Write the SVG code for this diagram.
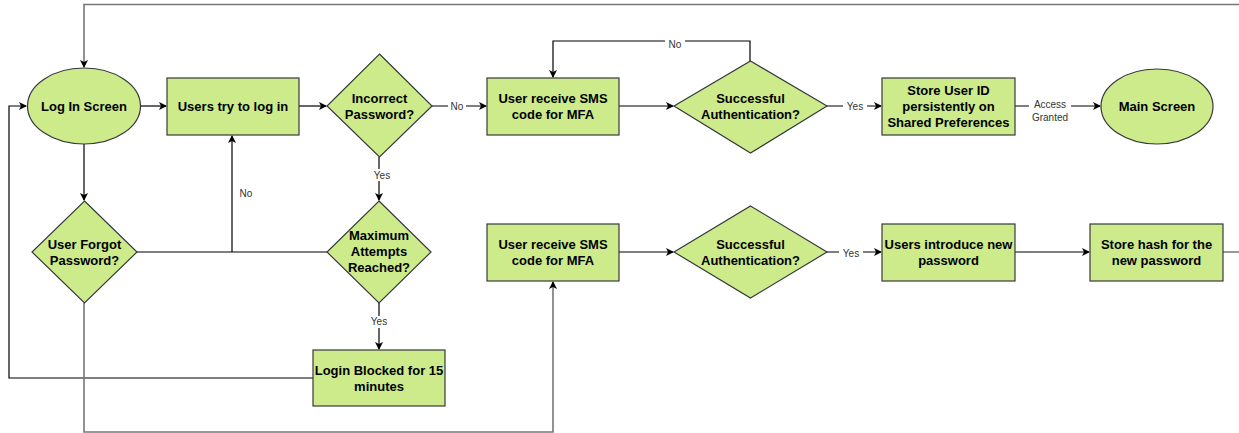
<svg xmlns="http://www.w3.org/2000/svg" width="1239" height="433" viewBox="0 0 1239 433">
<defs>
<marker id="ah" markerWidth="10" markerHeight="10" refX="8" refY="5" orient="auto" markerUnits="userSpaceOnUse">
<path d="M1,1 L9,5 L1,9 L3,5 Z" fill="#000"/>
</marker>
</defs>
<style>
.n{fill:#cdeb8b;stroke:#36393d;stroke-width:1.2}
.t{font-family:"Liberation Sans",Arial,sans-serif;font-size:13px;font-weight:bold;fill:#000;text-anchor:middle}
.c{fill:none;stroke:#000;stroke-width:1.2}
.g{fill:none;stroke:#777;stroke-width:1.6}
.l{font-family:"Liberation Sans",Arial,sans-serif;font-size:10px;fill:#333;text-anchor:middle}
.lb{fill:#fff}
</style>
<rect width="1239" height="433" fill="#fff"/>
<g id="connectors">
<path class="g" d="M1223,252 L1245,252 L1245,4.5 L84,4.5 L84,67" marker-end="url(#ah)"/>
<path class="c" d="M140,106 L166,106" marker-end="url(#ah)"/>
<path class="c" d="M299,106 L326,106" marker-end="url(#ah)"/>
<path class="c" d="M432,106 L486,106" marker-end="url(#ah)"/>
<path class="c" d="M619,106 L673,106" marker-end="url(#ah)"/>
<path class="c" d="M750,61 L750,41 L553,41 L553,77" marker-end="url(#ah)"/>
<path class="c" d="M827,106 L881,106" marker-end="url(#ah)"/>
<path class="c" d="M1015,106 L1100,106" marker-end="url(#ah)"/>
<path class="c" d="M84,144 L84,200" marker-end="url(#ah)"/>
<path class="c" d="M379,157 L379,200" marker-end="url(#ah)"/>
<path class="c" d="M137,252 L327,252"/>
<path class="c" d="M232,252 L232,136" marker-end="url(#ah)"/>
<path class="c" d="M379,303 L379,349" marker-end="url(#ah)"/>
<path class="c" d="M313,378 L9,378 L9,106 L26,106" marker-end="url(#ah)"/>
<path class="g" d="M84,303 L84,432 L553,432 L553,282" marker-end="url(#ah)"/>
<path class="c" d="M619,252 L673,252" marker-end="url(#ah)"/>
<path class="c" d="M827,252 L881,252" marker-end="url(#ah)"/>
<path class="c" d="M1015,252 L1089,252" marker-end="url(#ah)"/>
<rect class="lb" x="448" y="100" width="18" height="12"/>
<text class="l" x="457" y="110">No</text>
<rect class="lb" x="665" y="37" width="20" height="10"/>
<text class="l" x="675" y="48">No</text>
<rect class="lb" x="843" y="100" width="24" height="12"/>
<text class="l" x="855" y="110">Yes</text>
<rect class="lb" x="1029" y="97" width="42" height="26"/>
<text class="l" x="1050" y="108">Access</text>
<text class="l" x="1050" y="121">Granted</text>
<rect class="lb" x="367" y="169" width="24" height="12"/>
<text class="l" x="382" y="179">Yes</text>
<text class="l" x="246" y="197">No</text>
<rect class="lb" x="367" y="316" width="24" height="12"/>
<text class="l" x="379" y="325">Yes</text>
<rect class="lb" x="839" y="247" width="24" height="12"/>
<text class="l" x="851" y="257">Yes</text>
</g>
<g id="login-screen"><ellipse class="n" cx="84" cy="106" rx="56.5" ry="38"/><text class="t" x="84" y="111">Log In Screen</text></g>
<g id="try-login"><rect class="n" x="167" y="78" width="132" height="57"/><text class="t" x="233" y="111">Users try to log in</text></g>
<g id="incorrect-password"><polygon class="n" points="379.5,54 432,106 379.5,157 327,106"/><text class="t" x="379.5" y="103">Incorrect</text><text class="t" x="379.5" y="119">Password?</text></g>
<g id="sms-top"><rect class="n" x="487" y="78" width="132" height="57"/><text class="t" x="553" y="103">User receive SMS</text><text class="t" x="553" y="119">code for MFA</text></g>
<g id="auth-top"><polygon class="n" points="750.5,61 827,106 750.5,153 674,106"/><text class="t" x="750.5" y="103">Successful</text><text class="t" x="750.5" y="119">Authentication?</text></g>
<g id="store-user-id"><rect class="n" x="882" y="78" width="133" height="57"/><text class="t" x="948.5" y="95">Store User ID</text><text class="t" x="948.5" y="111">persistently on</text><text class="t" x="948.5" y="127">Shared Preferences</text></g>
<g id="main-screen"><ellipse class="n" cx="1157" cy="106.5" rx="56" ry="37.5"/><text class="t" x="1157" y="111">Main Screen</text></g>
<g id="forgot-password"><polygon class="n" points="84.5,201 137,252 84.5,303 32,252"/><text class="t" x="84.5" y="249">User Forgot</text><text class="t" x="84.5" y="265">Password?</text></g>
<g id="max-attempts"><polygon class="n" points="379,201 431,252 379,303 327,252"/><text class="t" x="379" y="240">Maximum</text><text class="t" x="379" y="256">Attempts</text><text class="t" x="379" y="272">Reached?</text></g>
<g id="login-blocked"><rect class="n" x="313" y="350" width="132" height="56"/><text class="t" x="379" y="375">Login Blocked for 15</text><text class="t" x="379" y="391">minutes</text></g>
<g id="sms-bottom"><rect class="n" x="487" y="224" width="132" height="57"/><text class="t" x="553" y="249">User receive SMS</text><text class="t" x="553" y="265">code for MFA</text></g>
<g id="auth-bottom"><polygon class="n" points="750.5,206 827,252 750.5,298 674,252"/><text class="t" x="750.5" y="249">Successful</text><text class="t" x="750.5" y="265">Authentication?</text></g>
<g id="new-password"><rect class="n" x="882" y="224" width="133" height="57"/><text class="t" x="948.5" y="249">Users introduce new</text><text class="t" x="948.5" y="265">password</text></g>
<g id="store-hash"><rect class="n" x="1090" y="224" width="133" height="57"/><text class="t" x="1156.5" y="249">Store hash for the</text><text class="t" x="1156.5" y="265">new password</text></g>
</svg>
